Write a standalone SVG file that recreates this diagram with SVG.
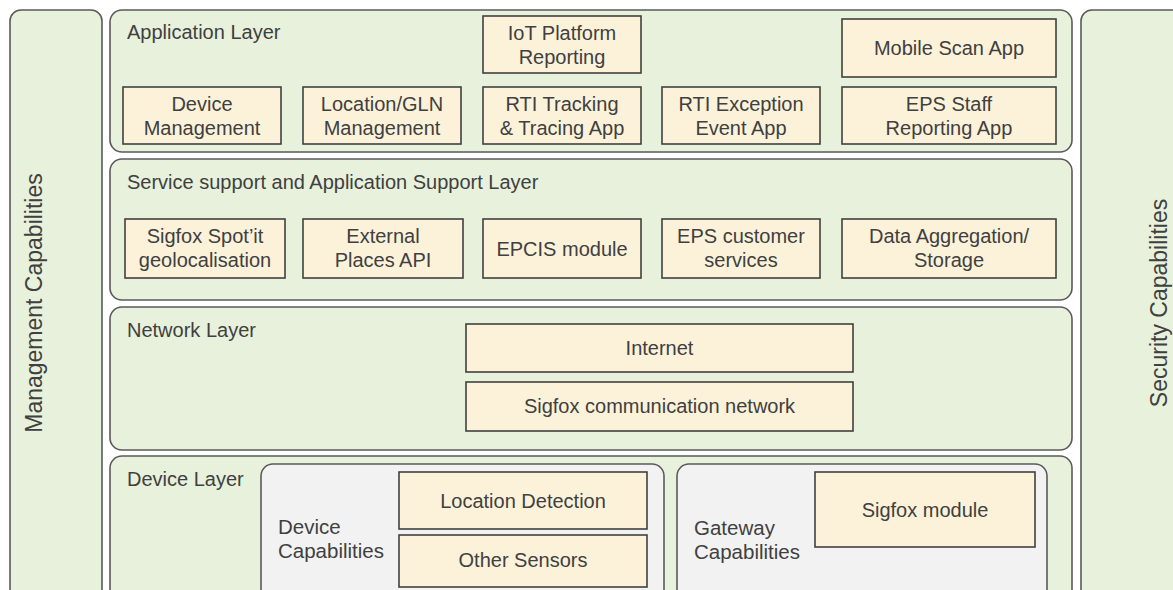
<svg xmlns="http://www.w3.org/2000/svg" width="1173" height="590" viewBox="0 0 1173 590">
<style>
.side{fill:#E8F1DC;stroke:#5A5A5A;stroke-width:1.6}
.layer{fill:#E8F1DC;stroke:#5A5A5A;stroke-width:1.6}
.cap{fill:#F2F2F2;stroke:#5A5A5A;stroke-width:1.6}
.box{fill:#FCF2DA;stroke:#404040;stroke-width:1.6}
text{font-family:"Liberation Sans",Arial,sans-serif;fill:#404040}
.t{font-size:20px;text-anchor:middle}
.lt{font-size:20px}
.ct{font-size:20.5px}
.vt{font-size:23px;text-anchor:middle}
</style>
<rect width="1173" height="590" fill="#FFFFFF"/>
<g id="management-capabilities">
<rect class="side" x="10" y="10" width="92" height="600" rx="11"/>
<text class="vt" transform="translate(42,303) rotate(-90)">Management Capabilities</text>
</g>
<g id="security-capabilities">
<rect class="side" x="1081" y="10" width="110" height="600" rx="11"/>
<text class="vt" transform="translate(1167,303) rotate(-90)">Security Capabilities</text>
</g>
<g id="application-layer">
<rect class="layer" x="110" y="10" width="962" height="142" rx="12"/>
<text class="lt" x="127" y="39">Application Layer</text>
</g>
<g id="iot-platform-reporting">
<rect class="box" x="483" y="16" width="158" height="57"/>
<text class="t" x="562" y="40">IoT Platform</text>
<text class="t" x="562" y="64">Reporting</text>
</g>
<g id="mobile-scan-app">
<rect class="box" x="842" y="19" width="214" height="58"/>
<text class="t" x="949" y="55">Mobile Scan App</text>
</g>
<g id="device-management">
<rect class="box" x="123" y="87" width="158" height="57"/>
<text class="t" x="202" y="111">Device</text>
<text class="t" x="202" y="135">Management</text>
</g>
<g id="location-gln-management">
<rect class="box" x="303" y="87" width="158" height="57"/>
<text class="t" x="382" y="111">Location/GLN</text>
<text class="t" x="382" y="135">Management</text>
</g>
<g id="rti-tracking">
<rect class="box" x="483" y="87" width="158" height="57"/>
<text class="t" x="562" y="111">RTI Tracking</text>
<text class="t" x="562" y="135">&amp; Tracing App</text>
</g>
<g id="rti-exception">
<rect class="box" x="662" y="87" width="158" height="57"/>
<text class="t" x="741" y="111">RTI Exception</text>
<text class="t" x="741" y="135">Event App</text>
</g>
<g id="eps-staff-reporting">
<rect class="box" x="842" y="87" width="214" height="57"/>
<text class="t" x="949" y="111">EPS Staff</text>
<text class="t" x="949" y="135">Reporting App</text>
</g>
<g id="service-support-layer">
<rect class="layer" x="110" y="159" width="962" height="141" rx="12"/>
<text class="lt" x="127" y="189">Service support and Application Support Layer</text>
</g>
<g id="sigfox-spotit">
<rect class="box" x="125" y="219" width="160" height="59"/>
<text class="t" x="205" y="243">Sigfox Spot’it</text>
<text class="t" x="205" y="267">geolocalisation</text>
</g>
<g id="external-places-api">
<rect class="box" x="303" y="219" width="160" height="59"/>
<text class="t" x="383" y="243">External</text>
<text class="t" x="383" y="267">Places API</text>
</g>
<g id="epcis-module">
<rect class="box" x="483" y="219" width="158" height="59"/>
<text class="t" x="562" y="256">EPCIS module</text>
</g>
<g id="eps-customer-services">
<rect class="box" x="662" y="219" width="158" height="59"/>
<text class="t" x="741" y="243">EPS customer</text>
<text class="t" x="741" y="267">services</text>
</g>
<g id="data-aggregation">
<rect class="box" x="842" y="219" width="214" height="59"/>
<text class="t" x="949" y="243">Data Aggregation/</text>
<text class="t" x="949" y="267">Storage</text>
</g>
<g id="network-layer">
<rect class="layer" x="110" y="307" width="962" height="143" rx="12"/>
<text class="lt" x="127" y="337">Network Layer</text>
</g>
<g id="internet">
<rect class="box" x="466" y="324" width="387" height="48"/>
<text class="t" x="659.5" y="355">Internet</text>
</g>
<g id="sigfox-communication-network">
<rect class="box" x="466" y="382" width="387" height="49"/>
<text class="t" x="659.5" y="413">Sigfox communication network</text>
</g>
<g id="device-layer">
<rect class="layer" x="110" y="456" width="962" height="160" rx="12"/>
<text class="lt" x="127" y="486">Device Layer</text>
</g>
<g id="device-capabilities">
<rect class="cap" x="261" y="464" width="403" height="140" rx="12"/>
<text class="ct" x="278" y="534">Device</text>
<text class="ct" x="278" y="558">Capabilities</text>
</g>
<g id="location-detection">
<rect class="box" x="399" y="472" width="248" height="57"/>
<text class="t" x="523" y="508">Location Detection</text>
</g>
<g id="other-sensors">
<rect class="box" x="399" y="535" width="248" height="52"/>
<text class="t" x="523" y="567">Other Sensors</text>
</g>
<g id="gateway-capabilities">
<rect class="cap" x="677" y="464" width="370" height="140" rx="12"/>
<text class="ct" x="694" y="535">Gateway</text>
<text class="ct" x="694" y="559">Capabilities</text>
</g>
<g id="sigfox-module">
<rect class="box" x="815" y="472" width="220" height="75"/>
<text class="t" x="925" y="517">Sigfox module</text>
</g>
<g id="connectors"></g>
</svg>
